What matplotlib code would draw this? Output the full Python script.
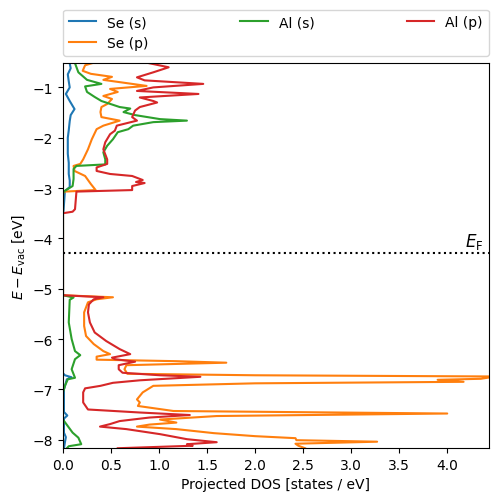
import numpy as np
from matplotlib import pyplot as plt

# energies [eV] and projected DOS
se_s_E = [-0.52, -0.62, -0.74, -0.88, -1.0, -1.13, -1.27, -1.43, -1.55, -1.67, -1.85, -2.0,
          -2.15, -2.32, -2.5, -2.72, -2.85, -2.98, -3.06, -3.46, -3.5, -5.1, -6.68, -6.72,
          -6.76, -6.80, -6.87, -7.0, -7.45, -7.52, -7.58, -7.86, -7.95, -8.05, -8.17]
se_s = [0.07, 0.08, 0.05, 0.06, 0.07, 0.03, 0.07, 0.12, 0.08, 0.07, 0.06, 0.05,
        0.05, 0.05, 0.06, 0.06, 0.07, 0.07, 0.02, 0.005, 0.0, 0.0, 0.0, 0.02,
        0.09, 0.04, 0.03, 0.01, 0.01, 0.045, 0.01, 0.01, 0.03, 0.02, 0.01]

se_p_E = [-0.52, -0.56, -0.67, -0.73, -0.79, -0.85, -0.97, -1.03, -1.09, -1.17, -1.23, -1.33,
          -1.39, -1.49, -1.59, -1.66, -1.76, -1.83, -2.03, -2.23, -2.43, -2.52, -2.56, -2.66,
          -2.76, -2.92, -3.04, -3.07, -3.1, -5.13, -5.17, -5.21, -5.27, -5.47, -5.74, -5.94,
          -6.10, -6.24, -6.30, -6.35, -6.41, -6.44, -6.47, -6.52, -6.60, -6.69, -6.72, -6.745,
          -6.76, -6.79, -6.81, -6.85, -6.88, -6.93, -7.06, -7.2, -7.26, -7.33, -7.43, -7.48,
          -7.53, -7.60, -7.66, -7.70, -7.74, -7.79, -7.87, -7.93, -7.97, -8.01, -8.04, -8.08,
          -8.12, -8.17]
se_p = [0.30, 0.23, 0.205, 0.29, 0.51, 0.42, 0.87, 0.49, 0.57, 0.42, 0.51, 0.46,
        0.40, 0.39, 0.40, 0.59, 0.42, 0.35, 0.30, 0.26, 0.21, 0.18, 0.11, 0.12,
        0.23, 0.29, 0.34, 0.02, 0.0, 0.0, 0.52, 0.35, 0.26, 0.22, 0.22, 0.24,
        0.32, 0.42, 0.49, 0.35, 0.35, 1.18, 1.70, 0.66, 0.64, 0.67, 2.0, 4.6,
        4.45, 4.35, 3.9, 4.17, 2.0, 0.94, 0.83, 0.77, 0.80, 0.78, 1.15, 4.0,
        1.6, 1.01, 1.18, 0.9, 0.77, 1.18, 1.57, 2.0, 2.42, 2.43, 3.27, 2.42,
        2.45, 2.52]

al_s_E = [-0.52, -0.70, -0.85, -0.93, -0.98, -1.09, -1.19, -1.27, -1.39, -1.42, -1.49, -1.55,
          -1.63, -1.66, -1.69, -1.76, -1.83, -1.89, -2.03, -2.16, -2.29, -2.43, -2.53, -2.56,
          -2.62, -2.82, -2.96, -3.06, -3.1, -5.13, -5.175, -5.22, -5.67, -6.0, -6.24, -6.32,
          -6.40, -6.60, -6.77, -6.80, -6.93, -7.06, -7.6, -7.73, -7.86, -7.96, -8.09, -8.13,
          -8.17]
al_s = [0.125, 0.16, 0.25, 0.40, 0.23, 0.25, 0.33, 0.40, 0.59, 0.70, 0.63, 0.75,
        1.01, 1.29, 0.94, 0.73, 0.68, 0.57, 0.52, 0.46, 0.42, 0.44, 0.44, 0.14,
        0.11, 0.11, 0.10, 0.015, 0.0, 0.0, 0.11, 0.07, 0.06, 0.09, 0.125, 0.18,
        0.125, 0.09, 0.125, 0.05, 0.02, 0.0, 0.0, 0.05, 0.10, 0.16, 0.19, 0.06,
        0.04]

al_p_E = [-0.52, -0.60, -0.70, -0.80, -0.86, -0.93, -1.0, -1.07, -1.13, -1.20, -1.27, -1.30,
          -1.39, -1.46, -1.59, -1.66, -1.76, -1.86, -1.93, -2.09, -2.23, -2.43, -2.52, -2.59,
          -2.66, -2.72, -2.76, -2.84, -2.88, -2.90, -2.96, -3.04, -3.07, -3.42, -3.47, -3.5,
          -5.13, -5.17, -5.21, -5.31, -5.47, -5.67, -5.87, -6.04, -6.20, -6.30, -6.37, -6.40,
          -6.45, -6.52, -6.60, -6.67, -6.72, -6.75, -6.82, -6.87, -6.93, -6.98, -7.06, -7.26,
          -7.40, -7.46, -7.51, -7.56, -7.63, -7.69, -7.74, -7.79, -7.89, -7.99, -8.05, -8.09,
          -8.12, -8.17]
al_p = [0.90, 1.10, 0.94, 0.77, 0.85, 1.46, 0.94, 0.77, 1.41, 0.80, 0.94, 0.98,
        0.80, 0.75, 0.72, 0.77, 0.56, 0.54, 0.49, 0.44, 0.42, 0.46, 0.46, 0.35,
        0.35, 0.49, 0.72, 0.83, 0.76, 0.85, 0.72, 0.72, 0.14, 0.125, 0.10, 0.0,
        0.0, 0.42, 0.32, 0.27, 0.26, 0.28, 0.33, 0.45, 0.59, 0.70, 0.51, 0.54,
        0.75, 0.58, 0.58, 0.62, 1.01, 1.43, 0.80, 0.52, 0.39, 0.23, 0.21, 0.21,
        0.26, 0.80, 1.32, 0.90, 0.59, 0.49, 0.385, 0.66, 1.01, 1.29, 1.60, 1.29,
        1.35, 0.57]

labels = ["Se (s)", "Se (p)", "Al (s)", "Al (p)"]
E_F = -4.29

fig = plt.figure(figsize=(4.98, 5.02), dpi=100)
ax = fig.add_subplot(111)
fig.subplots_adjust(left=0.1265, right=0.981, bottom=0.1056, top=0.872)

ax.plot(se_s, se_s_E, label=labels[0])
ax.plot(se_p, se_p_E, label=labels[1])
ax.plot(al_s, al_s_E, label=labels[2])
ax.plot(al_p, al_p_E, label=labels[3])
ax.axhline(E_F, color="k", ls=":")
ax.text(4.38, E_F + 0.03, r"$E_{\rm F}$", ha="right", va="bottom", fontsize=12)

ax.set_xlim(0, 4.43)
ax.set_ylim(-8.165, -0.52)
ax.set_xlabel("Projected DOS [states / eV]")
ax.set_ylabel(r"$E - E_{\rm vac}$ [eV]")
ax.legend(bbox_to_anchor=(0., 1.02, 1., .102), loc="lower left", ncol=3, mode="expand",
          borderaxespad=0.)

fig.savefig("out.png")
